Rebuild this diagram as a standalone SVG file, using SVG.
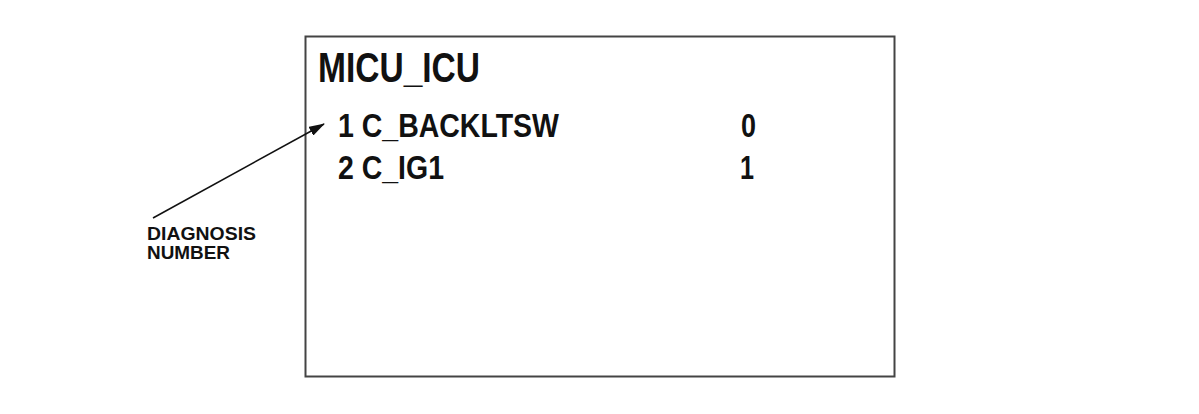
<svg xmlns="http://www.w3.org/2000/svg" width="1199" height="414" viewBox="0 0 1199 414">
<style>
.t{font-family:"Liberation Sans",Arial,sans-serif;fill:#111;}
.big{font-size:42px;font-weight:bold;}
.row{font-size:33.5px;font-weight:bold;}
.lbl{font-size:17.5px;font-weight:bold;}
</style>
<defs>
<marker id="ah" markerWidth="16" markerHeight="10" refX="15" refY="5" orient="auto" markerUnits="userSpaceOnUse">
<path d="M0,0 L16,5 L0,10 Z" fill="#111"/>
</marker>
</defs>
<rect width="1199" height="414" fill="#fff"/>
<g id="screen">
<rect x="305.5" y="36.5" width="589" height="340" fill="none" stroke="#444" stroke-width="2"/>
<text class="t big" x="318" y="82" textLength="162" lengthAdjust="spacingAndGlyphs">MICU_ICU</text>
<text class="t row" x="338" y="137" textLength="221" lengthAdjust="spacingAndGlyphs">1 C_BACKLTSW</text>
<text class="t row" x="338" y="179" textLength="106" lengthAdjust="spacingAndGlyphs">2 C_IG1</text>
<text class="t row" x="741" y="137" textLength="15" lengthAdjust="spacingAndGlyphs">0</text>
<text class="t row" x="740" y="179" textLength="14" lengthAdjust="spacingAndGlyphs">1</text>
</g>
<g id="label">
<text class="t lbl" x="147" y="240" textLength="109" lengthAdjust="spacingAndGlyphs">DIAGNOSIS</text>
<text class="t lbl" x="147" y="258.5" textLength="83" lengthAdjust="spacingAndGlyphs">NUMBER</text>
</g>
<g id="connectors">
<line x1="153" y1="218" x2="324" y2="124" stroke="#111" stroke-width="1.5" marker-end="url(#ah)"/>
</g>
</svg>
